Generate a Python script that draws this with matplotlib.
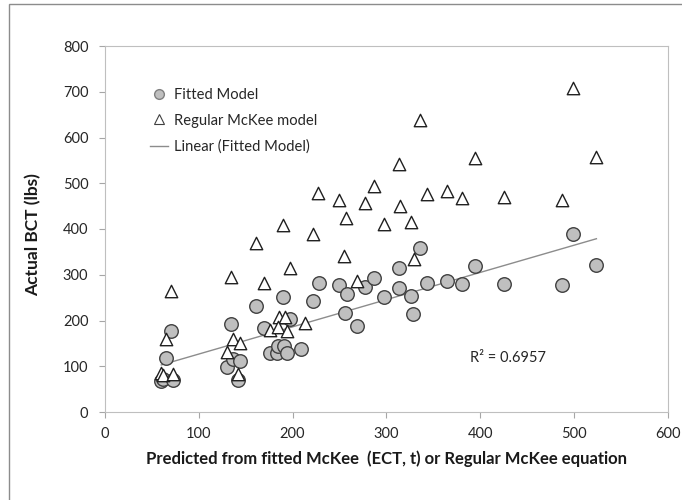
import numpy as np
import matplotlib.pyplot as plt
from matplotlib.patches import Rectangle
from matplotlib.lines import Line2D

plt.rcParams['font.family'] = ['Lato', 'DejaVu Sans']

# fitted McKee prediction vs actual BCT
fit_x = [60, 62, 72, 65, 70, 134, 161, 190, 197, 169, 130, 137, 144, 142,
         176, 183, 184, 191, 194, 209, 222, 228, 249, 258, 256, 269, 277,
         287, 297, 314, 314, 326, 328, 336, 343, 365, 381, 394, 425, 487,
         499, 524]
fit_y = [68, 73, 70, 119, 178, 193, 232, 251, 204, 184, 99, 116, 112, 70,
         130, 130, 145, 145, 128, 137, 242, 283, 278, 259, 217, 189, 273,
         292, 251, 314, 270, 254, 215, 359, 283, 286, 279, 320, 280, 277,
         390, 321]

# regular McKee prediction vs actual BCT
reg_x = [70, 65, 60, 62, 72, 134, 161, 197, 169, 136, 144, 130, 142, 185,
         192, 176, 184, 194, 190, 213, 222, 227, 249, 257, 255, 269, 277,
         287, 297, 314, 315, 326, 329, 336, 343, 365, 381, 394, 425, 487,
         499, 524]
reg_y = [265, 159, 86, 80, 84, 296, 370, 315, 281, 159, 151, 132, 82, 207,
         207, 179, 185, 178, 409, 194, 389, 478, 463, 425, 341, 287, 456,
         494, 410, 542, 450, 415, 334, 638, 476, 483, 467, 556, 470, 463,
         709, 558]

x_ticks = [0, 100, 200, 300, 400, 500, 600]
y_ticks = [0, 100, 200, 300, 400, 500, 600, 700, 800]

fig = plt.figure(figsize=(6.82, 5), dpi=100)
ax = fig.add_axes([0.154, 0.176, 0.825, 0.732])

# outer chart frame (cut off at right and bottom like the original)
fig.patches.append(Rectangle((9 / 682, -0.1), 1.2, 0.1 + 496 / 500, transform=fig.transFigure,
                             fill=False, edgecolor='#8c8c8c', linewidth=1.0))

ax.scatter(fit_x, fit_y, s=95, marker='o', facecolor='#bfbfbf', edgecolor='#404040',
           linewidth=1.0, zorder=3)
ax.scatter(reg_x, reg_y, s=80, marker='^', facecolor='white', edgecolor='#202020',
           linewidth=1.0, zorder=4)

# linear trendline of the fitted model
slope, icpt = np.polyfit(fit_x, fit_y, 1)
xs = np.array([min(fit_x), max(fit_x)])
ax.plot(xs, slope * xs + icpt, color='#8c8c8c', linewidth=1.0, zorder=2)

ax.text(430, 118, 'R² = 0.6957', fontsize=10.5, color='#262626', ha='center', va='center')

ax.set_xlim(0, 600)
ax.set_ylim(0, 800)
ax.set_xticks(x_ticks)
ax.set_yticks(y_ticks)
ax.tick_params(direction='out', length=4, color='#a6a6a6', labelsize=10.5, labelcolor='#262626')
ax.tick_params(axis='x', pad=7)
ax.tick_params(axis='y', pad=8)
for sp in ax.spines.values():
    sp.set_color('#bfbfbf')

ax.set_xlabel('Predicted from fitted McKee  (ECT, t) or Regular McKee equation',
              fontsize=12, fontweight='bold', color='#1a1a1a')
ax.set_ylabel('Actual BCT (lbs)', fontsize=12.5, fontweight='bold', color='#1a1a1a')
ax.xaxis.set_label_coords(0.5, -0.104)
ax.yaxis.set_label_coords(-0.114, 0.486)

handles = [
    Line2D([], [], marker='o', linestyle='none', markersize=7, markerfacecolor='#bfbfbf',
           markeredgecolor='#808080'),
    Line2D([], [], marker='^', linestyle='none', markersize=7, markerfacecolor='white',
           markeredgecolor='#404040', markeredgewidth=0.8),
    Line2D([], [], color='#8c8c8c', linewidth=1.0),
]
ax.legend(handles, ['Fitted Model', 'Regular McKee model', 'Linear (Fitted Model)'],
          loc='upper left', bbox_to_anchor=(0.057, 0.922), frameon=False, fontsize=10.6,
          handlelength=1.2, handletextpad=0.4, labelspacing=0.8, labelcolor='#262626')

fig.savefig('out.png', dpi=100)
